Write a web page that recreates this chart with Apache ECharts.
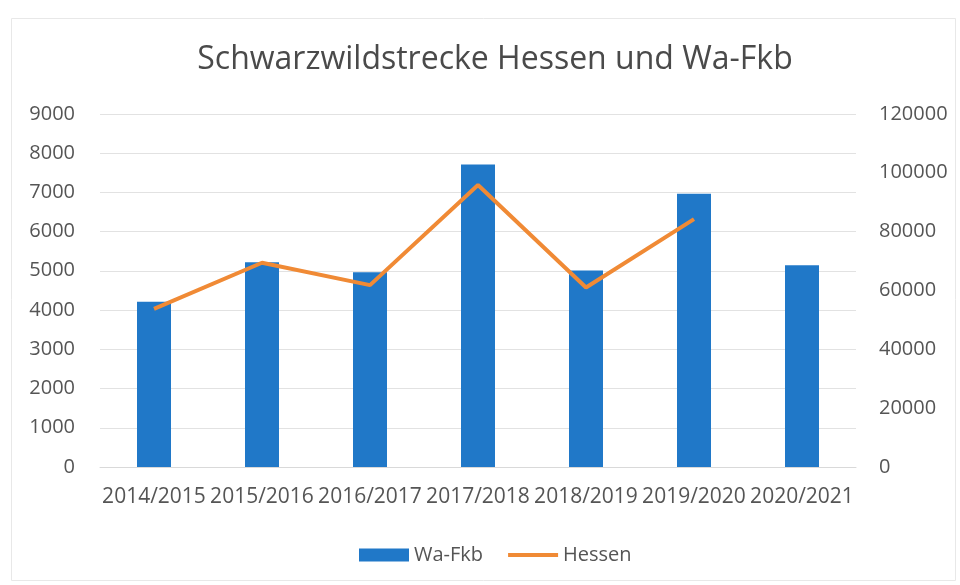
<!DOCTYPE html>
<html>
<head>
<meta charset="utf-8">
<script src="https://cdn.jsdelivr.net/npm/echarts@6/dist/echarts.min.js"></script>
<style>
html,body{margin:0;padding:0;background:#fff;}
#chart{width:960px;height:585px;}
</style>
</head>
<body>
<div id="chart"></div>
<script>
const categories = ['2014/2015','2015/2016','2016/2017','2017/2018','2018/2019','2019/2020','2020/2021'];
const waFkb = [4210, 5220, 4960, 7710, 5010, 6960, 5140];
const hessen = [53700, 69400, 61800, 95800, 61000, 84200, null];
const leftTicks = {min: 0, max: 9000, interval: 1000};
const rightTicks = {min: 0, max: 120000, interval: 20000};

const FONT = '"Open Sans", "Noto Sans", sans-serif';
const TXT = '#555555';
const plain = v => String(v);
const chart = echarts.init(document.getElementById('chart'), null, {renderer: 'canvas'});
chart.setOption({
  backgroundColor: '#ffffff',
  animation: false,
  textStyle: {fontFamily: FONT},
  graphic: [{
    type: 'rect', left: 9, top: 16, silent: true,
    shape: {width: 944, height: 562},
    style: {fill: 'none', stroke: '#e8e8e8', lineWidth: 1}
  }],
  title: {
    text: 'Schwarzwildstrecke Hessen und Wa-Fkb',
    left: 490, top: 39, textAlign: 'center',
    textStyle: {fontFamily: FONT, fontSize: 32, fontWeight: 'normal', color: '#4a4a4a'}
  },
  legend: {
    left: 354, top: 540,
    itemGap: 25, itemWidth: 50, itemHeight: 13,
    symbolKeepAspect: true,
    textStyle: {fontFamily: FONT, fontSize: 20, color: TXT},
    data: [
      {name: 'Wa-Fkb', icon: 'rect'},
      {name: 'Hessen', icon: 'path://M0,0 L50,0 L50,4 L0,4 Z'}
    ]
  },
  grid: {left: 100, right: 104, top: 113.8, bottom: 118, containLabel: false},
  xAxis: {
    type: 'category',
    data: categories,
    axisTick: {show: false},
    axisLine: {lineStyle: {color: '#d9d9d9', width: 1}},
    axisLabel: {interval: 0, margin: 20, fontFamily: FONT, fontSize: 21, color: TXT}
  },
  yAxis: [{
    type: 'value', min: leftTicks.min, max: leftTicks.max, interval: leftTicks.interval,
    axisLine: {show: false}, axisTick: {show: false},
    axisLabel: {margin: 25, fontFamily: FONT, fontSize: 20, color: TXT, formatter: plain},
    splitLine: {lineStyle: {color: '#e2e2e2', width: 1}}
  }, {
    type: 'value', min: rightTicks.min, max: rightTicks.max, interval: rightTicks.interval,
    position: 'right',
    axisLine: {show: false}, axisTick: {show: false},
    axisLabel: {margin: 23, fontFamily: FONT, fontSize: 20, color: TXT, formatter: plain},
    splitLine: {show: false}
  }],
  series: [{
    name: 'Wa-Fkb', type: 'bar', yAxisIndex: 0,
    data: waFkb, barWidth: 34,
    itemStyle: {color: '#2078c8'}
  }, {
    name: 'Hessen', type: 'line', yAxisIndex: 1,
    data: hessen, symbol: 'none', connectNulls: false,
    lineStyle: {color: '#f08a35', width: 4},
    itemStyle: {color: '#f08a35'}
  }]
});
</script>
</body>
</html>
